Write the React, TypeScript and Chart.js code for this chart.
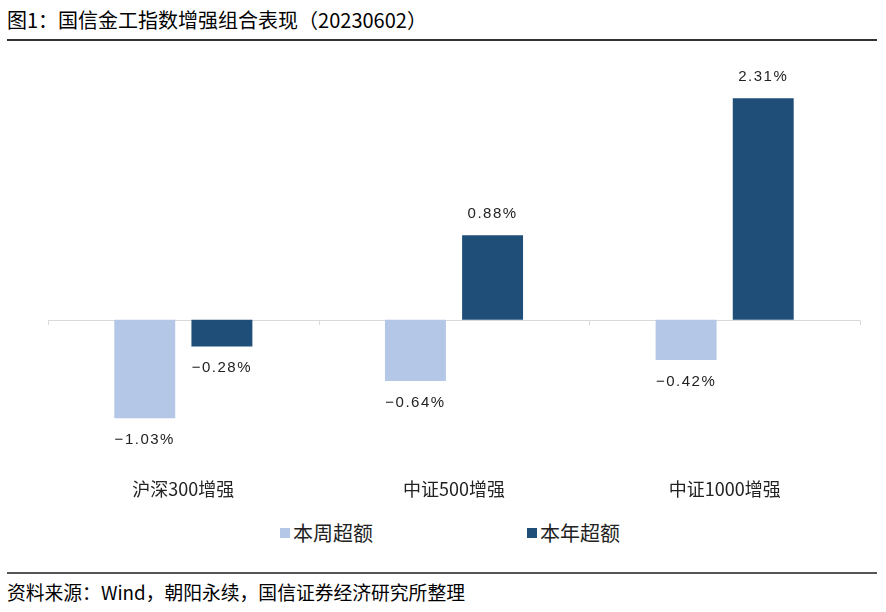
import React, { useEffect, useRef } from "react";
import { Chart, registerables } from "chart.js";
Chart.register(...registerables);

const categories = ["沪深300增强", "中证500增强", "中证1000增强"];
const weeklyExcess = [-1.03, -0.64, -0.42];
const yearlyExcess = [-0.28, 0.88, 2.31];
const seriesNames = ["本周超额", "本年超额"];
const seriesColors = ["#B4C7E7", "#1F4E79"];
const yMin = -1.5;
const yMax = 2.5;

const CJK = "'Noto Sans CJK SC', 'Noto Sans', sans-serif";
const NUM = "'Liberation Sans', Arial, sans-serif";

const axisDecor = {
  id: "axisDecor",
  beforeDatasetsDraw(chart: any) {
    const { ctx, chartArea, scales } = chart;
    const y0 = scales.y.getPixelForValue(0);
    ctx.save();
    ctx.strokeStyle = "#D9D9D9";
    ctx.lineWidth = 1;
    ctx.beginPath();
    ctx.moveTo(chartArea.left, Math.round(y0) + 0.5);
    ctx.lineTo(chartArea.right, Math.round(y0) + 0.5);
    for (let i = 0; i <= categories.length; i++) {
      const x = Math.round(scales.x.getPixelForValue(i - 0.5)) + 0.5;
      ctx.moveTo(x, Math.round(y0) + 0.5);
      ctx.lineTo(x, Math.round(y0) + 5);
    }
    ctx.stroke();
    ctx.restore();
  },
};

const valueLabels = {
  id: "valueLabels",
  afterDatasetsDraw(chart: any) {
    const ctx = chart.ctx;
    ctx.save();
    ctx.font = `15px ${NUM}`;
    ctx.fillStyle = "#222";
    ctx.textAlign = "center";
    try { (ctx as any).letterSpacing = "1.5px"; } catch (e) {}
    chart.data.datasets.forEach((ds: any, di: number) => {
      const meta = chart.getDatasetMeta(di);
      meta.data.forEach((bar: any, i: number) => {
        const v = ds.data[i];
        const txt = (v < 0 ? "\u2212" : "") + Math.abs(v).toFixed(2) + "%";
        if (v >= 0) {
          ctx.textBaseline = "bottom";
          ctx.fillText(txt, bar.x, bar.y - 14);
        } else {
          ctx.textBaseline = "top";
          ctx.fillText(txt, bar.x, bar.y + 14);
        }
      });
    });
    ctx.restore();
  },
};

function BarChart() {
  const ref = useRef<HTMLCanvasElement>(null);
  useEffect(() => {
    if (!ref.current) return;
    const chart = new Chart(ref.current, {
      type: "bar",
      data: {
        labels: categories,
        datasets: [
          { label: seriesNames[0], data: weeklyExcess, backgroundColor: seriesColors[0] },
          { label: seriesNames[1], data: yearlyExcess, backgroundColor: seriesColors[1] },
        ],
      },
      options: {
        responsive: false,
        animation: false,
        devicePixelRatio: 1,
        layout: { padding: { left: 48, right: 26, top: 35, bottom: 0 } },
        datasets: { bar: { categoryPercentage: 0.57, barPercentage: 0.79 } },
        plugins: { legend: { display: false }, tooltip: { enabled: false } },
        scales: {
          x: {
            grid: { display: false, drawTicks: false },
            border: { display: false },
            ticks: { font: { family: CJK, size: 18 }, color: "#222", padding: 15 },
          },
          y: { display: false, min: yMin, max: yMax },
        },
      },
      plugins: [axisDecor, valueLabels],
    });
    return () => chart.destroy();
  }, []);
  return <canvas ref={ref} width={886} height={470} style={{ display: "block" }} />;
}

export default function App() {
  return (
    <div style={{ position: "fixed", left: 0, top: 0, width: 886, height: 612, background: "#fff", fontFamily: CJK, color: "#000" }}>
      <div style={{ position: "absolute", left: 7, top: 8, fontSize: 20, lineHeight: "24px", whiteSpace: "nowrap" }}>
        图1：国信金工指数增强组合表现（20230602）
      </div>
      <div style={{ position: "absolute", left: 7, top: 39, width: 870, height: 2, background: "#333" }} />
      <div style={{ position: "absolute", left: 0, top: 45 }}>
        <BarChart />
      </div>
      {seriesNames.map((name, i) => (
        <div key={name} style={{ position: "absolute", left: i === 0 ? 280 : 527, top: 521, height: 24, display: "flex", alignItems: "center", whiteSpace: "nowrap" }}>
          <span style={{ display: "inline-block", width: 10, height: 10, background: seriesColors[i], marginRight: 3 }} />
          <span style={{ fontSize: 20, lineHeight: "24px", color: "#222" }}>{name}</span>
        </div>
      ))}
      <div style={{ position: "absolute", left: 7, top: 572, width: 870, height: 2, background: "#555" }} />
      <div style={{ position: "absolute", left: 7, top: 580, fontSize: 18.8, lineHeight: "24px", whiteSpace: "nowrap" }}>
        资料来源：Wind，朝阳永续，国信证券经济研究所整理
      </div>
    </div>
  );
}
